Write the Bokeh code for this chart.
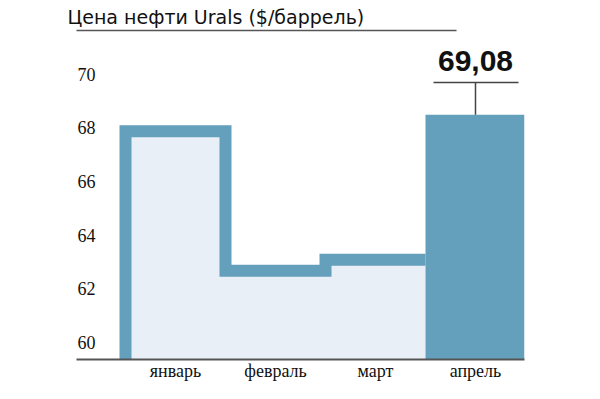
import numpy as np
from bokeh.plotting import figure
from bokeh.models import Range1d, LinearAxis, FixedTicker
from bokeh.core.properties import value
from bokeh.embed import file_html
from bokeh.resources import INLINE

# ---- data ----
months = ["январь", "февраль", "март", "апрель"]
prices = [68.46, 63.26, 63.67, 69.08]
y_ticks = [60, 62, 64, 66, 68, 70]
y_tick_labels = ["60", "62", "64", "66", "68", "70"]
title_text = "Цена нефти Urals ($/баррель)"

# ---- style ----
BLUE = "#649FBB"
FILL = "#E8EFF6"
DARK = "#444444"
Y0, Y1 = 59.95, 72.22
X0, X1 = -0.99, 3.49
LABEL_SHIFT = 0.59      # tick labels sit above their values
LEADER = 1.20           # leader line length above the last bar (data units)
TEXT_UP = 1.99          # annotation baseline above last bar (data units)
RULE_END = 2.81         # right end of the rule under the title (x data units)

p = figure(width=584, height=383, output_backend="svg", toolbar_location=None,
           x_range=Range1d(X0, X1), y_range=Range1d(Y0, Y1),
           y_axis_location=None,
           min_border_left=76, min_border_right=60, min_border_top=30, min_border_bottom=23)
p.outline_line_color = None
p.xgrid.visible = False
p.ygrid.visible = False
p.background_fill_color = "white"
p.border_fill_color = "white"

# title
p.title.text = title_text
p.title.text_font = "DejaVu Sans"
p.title.text_font_size = "19px"
p.title.text_font_style = "normal"
p.title.text_color = "#111111"
p.title.align = "left"
p.title.offset = -9
p.title.standoff = 5

# x axis (the one below the plot)
xa = p.below[0]
xa.ticker = FixedTicker(ticks=list(range(len(months))))
xa.major_label_overrides = {i: m for i, m in enumerate(months)}
xa.axis_line_color = "#555555"
xa.axis_line_width = 2
xa.major_tick_line_color = None
xa.minor_tick_line_color = None
xa.major_tick_out = 0
xa.minor_tick_out = 0
xa.major_label_standoff = 1
xa.major_label_text_font = "Liberation Serif"
xa.major_label_text_font_size = "18px"
xa.major_label_text_color = "#111111"

# rule under the title: a bare axis line above the frame
rule = LinearAxis(ticker=FixedTicker(ticks=[]), bounds=(X0, RULE_END),
                  axis_line_color="#555555", axis_line_width=1.5,
                  major_tick_line_color=None, minor_tick_line_color=None,
                  major_tick_out=0, major_tick_in=0, minor_tick_out=0, minor_tick_in=0,
                  major_label_standoff=0, major_label_text_font_size="0px")
p.add_layout(rule, "above")

# step area (first three months) + last month as solid bar
n = len(months) - 1
edges = np.arange(n + 1) - 0.5
step_x = [edges[0]] + [e for i in range(n) for e in (edges[i], edges[i + 1])]
step_y = [Y0] + [v for v in prices[:n] for _ in (0, 1)]
p.patch(step_x + [edges[-1]], step_y + [Y0], fill_color=FILL, line_color=None)
p.line(step_x, step_y, line_width=12, line_color=BLUE, line_join="miter", line_cap="butt")
p.vbar(x=[n], width=1.0, top=[prices[n]], bottom=Y0, fill_color=BLUE, line_color=None)

# annotation of last value
last = prices[n]
p.segment(x0=[n], y0=[last], x1=[n], y1=[last + LEADER], line_color=DARK, line_width=1.5)
p.segment(x0=[n - 0.42], y0=[last + LEADER], x1=[n + 0.43], y1=[last + LEADER],
          line_color=DARK, line_width=1.5)
p.text(x=[n], y=[last + TEXT_UP], text=[f"{last:.2f}".replace(".", ",")],
       text_align="center", text_baseline="alphabetic",
       text_font=value("Liberation Sans"), text_font_style="bold",
       text_font_size="30px", text_color="#111111")

# y axis (labels drawn slightly above their values, inside the plot)
p.extra_y_ranges = {"lbl": Range1d(Y0 - LABEL_SHIFT, Y1 - LABEL_SHIFT)}
ya = LinearAxis(y_range_name="lbl", ticker=FixedTicker(ticks=y_ticks),
                major_label_overrides={t: l for t, l in zip(y_ticks, y_tick_labels)},
                axis_line_color=None, major_tick_line_color=None, minor_tick_line_color=None,
                major_tick_out=0, major_label_standoff=-19,
                major_label_text_font="Liberation Serif", major_label_text_font_size="18px",
                major_label_text_color="#111111")
p.add_layout(ya, "left")

open("out.html", "w").write(file_html(p, INLINE))
